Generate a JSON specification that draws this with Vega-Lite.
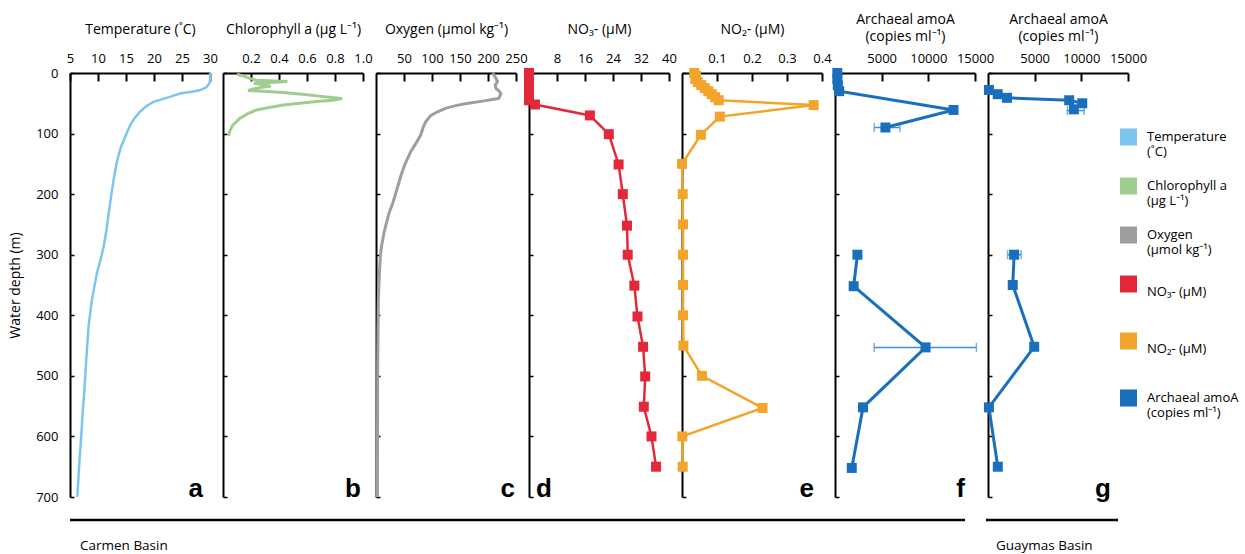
{
  "$schema": "https://vega.github.io/schema/vega-lite/v6.json",
  "padding": {"left": 8, "top": 12, "right": 0, "bottom": 0},
  "background": "white",
  "config": {
    "font": "Open Sans",
    "view": {"stroke": null},
    "axis": {"grid": false, "domainColor": "black", "domainWidth": 2, "tickColor": "black", "labelColor": "black", "titleColor": "black", "labelFont": "Open Sans", "titleFont": "Open Sans", "labelFontSize": 13, "titleFontSize": 14, "titleFontWeight": "normal", "labelFlush": false, "labelOverlap": false, "titleLineHeight": 17}
  },
  "datasets": {
    "temp": [{"depth":0,"value":30},{"depth":8,"value":30.1},{"depth":17,"value":29.9},{"depth":24,"value":29.3},{"depth":28,"value":28.3},{"depth":31,"value":26.8},{"depth":34,"value":24.6},{"depth":39,"value":23.0},{"depth":44,"value":21.2},{"depth":48,"value":19.8},{"depth":55,"value":18.6},{"depth":65,"value":17.4},{"depth":75,"value":16.5},{"depth":85,"value":15.8},{"depth":100,"value":15.1},{"depth":122,"value":14.1},{"depth":145,"value":13.4},{"depth":170,"value":12.9},{"depth":200,"value":12.4},{"depth":232,"value":11.9},{"depth":260,"value":11.5},{"depth":287,"value":11.0},{"depth":310,"value":10.4},{"depth":331,"value":9.8},{"depth":355,"value":9.3},{"depth":375,"value":8.9},{"depth":419,"value":8.3},{"depth":474,"value":7.9},{"depth":520,"value":7.6},{"depth":556,"value":7.3},{"depth":600,"value":7.0},{"depth":639,"value":6.7},{"depth":670,"value":6.5},{"depth":700,"value":6.3}],
    "chl": [{"depth":2,"value":0.10},{"depth":6,"value":0.16},{"depth":9,"value":0.19},{"depth":12,"value":0.24},{"depth":14,"value":0.46},{"depth":15,"value":0.40},{"depth":17,"value":0.22},{"depth":20,"value":0.30},{"depth":22,"value":0.34},{"depth":24,"value":0.27},{"depth":27,"value":0.20},{"depth":29,"value":0.18},{"depth":32,"value":0.43},{"depth":36,"value":0.60},{"depth":39,"value":0.72},{"depth":42,"value":0.85},{"depth":45,"value":0.78},{"depth":47,"value":0.67},{"depth":50,"value":0.55},{"depth":53,"value":0.43},{"depth":57,"value":0.33},{"depth":61,"value":0.24},{"depth":68,"value":0.17},{"depth":75,"value":0.12},{"depth":86,"value":0.07},{"depth":95,"value":0.05},{"depth":104,"value":0.04}],
    "oxy": [{"depth":0,"value":208},{"depth":5,"value":212},{"depth":10,"value":215},{"depth":14,"value":217},{"depth":20,"value":213},{"depth":25,"value":214},{"depth":30,"value":220},{"depth":34,"value":223},{"depth":38,"value":221},{"depth":42,"value":219},{"depth":44,"value":205},{"depth":46,"value":193},{"depth":50,"value":165},{"depth":53,"value":146},{"depth":58,"value":125},{"depth":64,"value":110},{"depth":70,"value":98},{"depth":80,"value":89},{"depth":90,"value":84},{"depth":102,"value":80},{"depth":115,"value":72},{"depth":130,"value":62},{"depth":150,"value":52},{"depth":168,"value":45},{"depth":196,"value":36},{"depth":215,"value":30},{"depth":229,"value":24},{"depth":250,"value":18},{"depth":265,"value":14},{"depth":285,"value":10},{"depth":303,"value":7.7},{"depth":340,"value":5.5},{"depth":375,"value":4.2},{"depth":430,"value":3.5},{"depth":485,"value":3.0},{"depth":600,"value":2.7},{"depth":700,"value":2.5}],
    "no3": [{"depth":0,"value":0},{"depth":5,"value":0},{"depth":10,"value":0},{"depth":15,"value":0},{"depth":20,"value":0},{"depth":25,"value":0},{"depth":30,"value":0},{"depth":35,"value":0},{"depth":40,"value":0},{"depth":45,"value":0},{"depth":52,"value":1.7},{"depth":70,"value":17.4},{"depth":101,"value":22.8},{"depth":151,"value":25.6},{"depth":200,"value":26.8},{"depth":252,"value":28.0},{"depth":300,"value":28.2},{"depth":351,"value":30.1},{"depth":402,"value":31.0},{"depth":452,"value":32.6},{"depth":501,"value":33.2},{"depth":551,"value":32.8},{"depth":600,"value":35.0},{"depth":650,"value":36.3}],
    "no2": [{"depth":0,"value":0.035},{"depth":5,"value":0.04},{"depth":10,"value":0.038},{"depth":15,"value":0.045},{"depth":20,"value":0.055},{"depth":25,"value":0.065},{"depth":30,"value":0.075},{"depth":35,"value":0.085},{"depth":40,"value":0.095},{"depth":45,"value":0.105},{"depth":53,"value":0.376},{"depth":72,"value":0.108},{"depth":102,"value":0.054},{"depth":150,"value":0.0},{"depth":200,"value":0.002},{"depth":250,"value":0.003},{"depth":300,"value":0.003},{"depth":350,"value":0.003},{"depth":400,"value":0.003},{"depth":450,"value":0.004},{"depth":500,"value":0.057},{"depth":553,"value":0.23},{"depth":600,"value":0.001},{"depth":650,"value":0.002}],
    "amoa": [
      {"basin":"Carmen","cast":1,"depth":0,"value":250},{"basin":"Carmen","cast":1,"depth":10,"value":250},{"basin":"Carmen","cast":1,"depth":20,"value":300},{"basin":"Carmen","cast":1,"depth":30,"value":450},{"basin":"Carmen","cast":1,"depth":61,"value":12700},{"basin":"Carmen","cast":1,"depth":90,"value":5400},
      {"basin":"Carmen","cast":2,"depth":300,"value":2400},{"basin":"Carmen","cast":2,"depth":352,"value":2000},{"basin":"Carmen","cast":2,"depth":453,"value":9700},{"basin":"Carmen","cast":2,"depth":552,"value":3000},{"basin":"Carmen","cast":2,"depth":652,"value":1800},
      {"basin":"Guaymas","cast":1,"depth":28,"value":100},{"basin":"Guaymas","cast":1,"depth":35,"value":1040},{"basin":"Guaymas","cast":1,"depth":41,"value":2040},{"basin":"Guaymas","cast":1,"depth":45,"value":8700},{"basin":"Guaymas","cast":1,"depth":50,"value":10100},{"basin":"Guaymas","cast":1,"depth":60,"value":9200},
      {"basin":"Guaymas","cast":2,"depth":300,"value":2800},{"basin":"Guaymas","cast":2,"depth":350,"value":2650},{"basin":"Guaymas","cast":2,"depth":452,"value":4950},{"basin":"Guaymas","cast":2,"depth":552,"value":100},{"basin":"Guaymas","cast":2,"depth":650,"value":1050}
    ],
    "amoa_err": [
      {"basin":"Carmen","depth":90,"lo":4200,"hi":6950},{"basin":"Carmen","depth":453,"lo":4200,"hi":15150},
      {"basin":"Guaymas","depth":62,"lo":8500,"hi":10300},{"basin":"Guaymas","depth":300,"lo":2100,"hi":3550}
    ],
    "carmen": [{"basin": "Carmen Basin"}],
    "guaymas": [{"basin": "Guaymas Basin"}]
  },
  "bounds": "flush",
  "spacing": 13,
  "resolve": {"scale": {"x": "independent", "y": "independent", "color": "shared"}, "legend": {"color": "shared"}},
  "hconcat": [
    {
      "width": 140, "height": 424,
      "layer": [
        {"data": {"name": "temp"},
         "mark": {"type": "line", "strokeWidth": 2.5},
         "encoding": {
           "x": {"field": "value", "type": "quantitative", "scale": {"domain": [5, 30], "nice": false, "zero": false}, "axis": {"orient": "top", "values": [5,10,15,20,25,30], "format": "d", "title": "Temperature (˚C)", "tickSize": -8, "tickWidth": 2, "labelPadding": 16, "titlePadding": 16, "labelOverlap": false}},
           "y": {"field": "depth", "type": "quantitative", "scale": {"domain": [0, 700], "reverse": true, "nice": false, "zero": false}, "axis": {"values": [0,100,200,300,400,500,600,700], "format": "d", "title": "Water depth (m)", "tickSize": -4, "tickWidth": 1.5, "labelPadding": 16, "titlePadding": 13, "labelOverlap": false}},
           "order": {"field": "depth", "type": "quantitative"},
           "color": {"datum": "Temperature|(˚C)", "type": "nominal",
             "scale": {"domain": ["Temperature|(˚C)", "Chlorophyll a|(µg L⁻¹)", "Oxygen|(µmol kg⁻¹)", "NO₃- (µM)", "NO₂- (µM)", "Archaeal amoA|(copies ml⁻¹)"], "range": ["#7cc6ee", "#9fcd8f", "#9e9e9e", "#e3283a", "#f2a42b", "#1a6fbd"]},
             "legend": {"orient": "none", "legendX": 1050, "legendY": 49, "title": null, "symbolType": "square", "symbolSize": 289, "symbolStrokeWidth": 0, "labelFontSize": 13, "labelFont": "Open Sans", "labelColor": "black", "labelOffset": 10, "labelLimit": 300, "clipHeight": 30, "rowPadding": 12, "labelExpr": "split(indexof(datum.label, '|') < 0 ? datum.label + '|' : datum.label, '|')",
               "encode": {"symbols": {"update": {"fill": {"scale": "color", "field": "value"}, "stroke": {"value": "transparent"}, "opacity": {"value": 1}}}, "labels": {"update": {"lineHeight": {"value": 15}, "dy": {"signal": "indexof(datum.label, '|') < 0 ? 7.5 : 0"}}}}}}
         }},
        {"data": {"values": [{"label": "a"}]},
         "mark": {"type": "text", "align": "right", "baseline": "alphabetic", "dx": -7, "font": "Liberation Sans", "fontWeight": "bold", "fontSize": 26, "color": "black"},
         "encoding": {
           "x": {"datum": 30, "type": "quantitative", "axis": {"orient": "top", "values": [5,10,15,20,25,30], "format": "d", "title": "Temperature (˚C)", "tickSize": -8, "tickWidth": 2, "labelPadding": 16, "titlePadding": 16, "labelOverlap": false}},
           "y": {"datum": 700, "type": "quantitative", "axis": {"values": [0,100,200,300,400,500,600,700], "format": "d", "title": "Water depth (m)", "tickSize": -4, "tickWidth": 1.5, "labelPadding": 16, "titlePadding": 13, "labelOverlap": false}},
           "text": {"field": "label"}}},
        {"data": {"name": "carmen"},
         "mark": {"type": "rule", "strokeWidth": 2.5, "color": "black", "x2Offset": 13},
         "encoding": {
           "x": {"datum": 5, "type": "quantitative", "axis": {"orient": "top", "values": [5,10,15,20,25,30], "format": "d", "title": "Temperature (˚C)", "tickSize": -8, "tickWidth": 2, "labelPadding": 16, "titlePadding": 16, "labelOverlap": false}},
           "x2": {"datum": 30},
           "y": {"datum": 738, "type": "quantitative", "axis": {"values": [0,100,200,300,400,500,600,700], "format": "d", "title": "Water depth (m)", "tickSize": -4, "tickWidth": 1.5, "labelPadding": 16, "titlePadding": 13, "labelOverlap": false}}}},
        {"data": {"name": "carmen"},
         "mark": {"type": "text", "align": "left", "baseline": "middle", "dx": 10, "fontSize": 13.5, "font": "Open Sans", "color": "black"},
         "encoding": {
           "x": {"datum": 5, "type": "quantitative", "axis": {"orient": "top", "values": [5,10,15,20,25,30], "format": "d", "title": "Temperature (˚C)", "tickSize": -8, "tickWidth": 2, "labelPadding": 16, "titlePadding": 16, "labelOverlap": false}},
           "y": {"datum": 781, "type": "quantitative", "axis": {"values": [0,100,200,300,400,500,600,700], "format": "d", "title": "Water depth (m)", "tickSize": -4, "tickWidth": 1.5, "labelPadding": 16, "titlePadding": 13, "labelOverlap": false}},
           "text": {"field": "basin"}}}
      ]
    },
    {
      "width": 140, "height": 424,
      "layer": [
        {"data": {"name": "chl"},
         "mark": {"type": "line", "strokeWidth": 3},
         "encoding": {
           "x": {"field": "value", "type": "quantitative", "scale": {"domain": [0, 1], "nice": false, "zero": false}, "axis": {"orient": "top", "values": [0.2,0.4,0.6,0.8,1.0], "format": ".1f", "title": "Chlorophyll a (µg L⁻¹)", "tickSize": -8, "tickWidth": 2, "labelPadding": 16, "titlePadding": 16, "labelOverlap": false}},
           "y": {"field": "depth", "type": "quantitative", "scale": {"domain": [0, 700], "reverse": true, "nice": false, "zero": false}, "axis": {"values": [0,100,200,300,400,500,600,700], "labels": false, "title": null, "tickSize": -4, "tickWidth": 1.5}},
           "order": {"field": "depth", "type": "quantitative"},
           "color": {"datum": "Chlorophyll a|(µg L⁻¹)", "type": "nominal"}
         }},
        {"data": {"values": [{"label": "b"}]},
         "mark": {"type": "text", "align": "right", "baseline": "alphabetic", "dx": -2, "font": "Liberation Sans", "fontWeight": "bold", "fontSize": 26, "color": "black"},
         "encoding": {
           "x": {"datum": 1, "type": "quantitative", "axis": {"orient": "top", "values": [0.2,0.4,0.6,0.8,1.0], "format": ".1f", "title": "Chlorophyll a (µg L⁻¹)", "tickSize": -8, "tickWidth": 2, "labelPadding": 16, "titlePadding": 16, "labelOverlap": false}},
           "y": {"datum": 700, "type": "quantitative", "axis": {"values": [0,100,200,300,400,500,600,700], "labels": false, "title": null, "tickSize": -4, "tickWidth": 1.5}},
           "text": {"field": "label"}}},
        {"data": {"name": "carmen"},
         "mark": {"type": "rule", "strokeWidth": 2.5, "color": "black", "x2Offset": 13},
         "encoding": {
           "x": {"datum": 0, "type": "quantitative", "axis": {"orient": "top", "values": [0.2,0.4,0.6,0.8,1.0], "format": ".1f", "title": "Chlorophyll a (µg L⁻¹)", "tickSize": -8, "tickWidth": 2, "labelPadding": 16, "titlePadding": 16, "labelOverlap": false}},
           "x2": {"datum": 1},
           "y": {"datum": 738, "type": "quantitative", "axis": {"values": [0,100,200,300,400,500,600,700], "labels": false, "title": null, "tickSize": -4, "tickWidth": 1.5}}}}
      ]
    },
    {
      "width": 140, "height": 424,
      "layer": [
        {"data": {"name": "oxy"},
         "mark": {"type": "line", "strokeWidth": 3},
         "encoding": {
           "x": {"field": "value", "type": "quantitative", "scale": {"domain": [0, 250], "nice": false, "zero": false}, "axis": {"orient": "top", "values": [50,100,150,200,250], "format": "d", "title": "Oxygen (µmol kg⁻¹)", "tickSize": -8, "tickWidth": 2, "labelPadding": 16, "titlePadding": 16, "labelOverlap": false}},
           "y": {"field": "depth", "type": "quantitative", "scale": {"domain": [0, 700], "reverse": true, "nice": false, "zero": false}, "axis": {"values": [0,100,200,300,400,500,600,700], "labels": false, "title": null, "tickSize": -4, "tickWidth": 1.5}},
           "order": {"field": "depth", "type": "quantitative"},
           "color": {"datum": "Oxygen|(µmol kg⁻¹)", "type": "nominal"}
         }},
        {"data": {"values": [{"label": "c"}]},
         "mark": {"type": "text", "align": "right", "baseline": "alphabetic", "dx": -1, "font": "Liberation Sans", "fontWeight": "bold", "fontSize": 26, "color": "black"},
         "encoding": {
           "x": {"datum": 250, "type": "quantitative", "axis": {"orient": "top", "values": [50,100,150,200,250], "format": "d", "title": "Oxygen (µmol kg⁻¹)", "tickSize": -8, "tickWidth": 2, "labelPadding": 16, "titlePadding": 16, "labelOverlap": false}},
           "y": {"datum": 700, "type": "quantitative", "axis": {"values": [0,100,200,300,400,500,600,700], "labels": false, "title": null, "tickSize": -4, "tickWidth": 1.5}},
           "text": {"field": "label"}}},
        {"data": {"name": "carmen"},
         "mark": {"type": "rule", "strokeWidth": 2.5, "color": "black", "x2Offset": 13},
         "encoding": {
           "x": {"datum": 0, "type": "quantitative", "axis": {"orient": "top", "values": [50,100,150,200,250], "format": "d", "title": "Oxygen (µmol kg⁻¹)", "tickSize": -8, "tickWidth": 2, "labelPadding": 16, "titlePadding": 16, "labelOverlap": false}},
           "x2": {"datum": 250},
           "y": {"datum": 738, "type": "quantitative", "axis": {"values": [0,100,200,300,400,500,600,700], "labels": false, "title": null, "tickSize": -4, "tickWidth": 1.5}}}}
      ]
    },
    {
      "width": 140, "height": 424,
      "layer": [
        {"data": {"name": "no3"},
         "mark": {"type": "line", "strokeWidth": 2.5, "point": {"shape": "square", "size": 100, "filled": true, "opacity": 1}},
         "encoding": {
           "x": {"field": "value", "type": "quantitative", "scale": {"domain": [0, 40], "nice": false, "zero": false}, "axis": {"orient": "top", "values": [8,16,24,32,40], "format": "d", "title": "NO₃- (µM)", "tickSize": -8, "tickWidth": 2, "labelPadding": 16, "titlePadding": 16, "labelOverlap": false}},
           "y": {"field": "depth", "type": "quantitative", "scale": {"domain": [0, 700], "reverse": true, "nice": false, "zero": false}, "axis": {"values": [0,100,200,300,400,500,600,700], "labels": false, "title": null, "tickSize": -4, "tickWidth": 1.5}},
           "order": {"field": "depth", "type": "quantitative"},
           "color": {"datum": "NO₃- (µM)", "type": "nominal"}
         }},
        {"data": {"values": [{"label": "d"}]},
         "mark": {"type": "text", "align": "left", "baseline": "alphabetic", "dx": 7, "font": "Liberation Sans", "fontWeight": "bold", "fontSize": 26, "color": "black"},
         "encoding": {
           "x": {"datum": 0, "type": "quantitative", "axis": {"orient": "top", "values": [8,16,24,32,40], "format": "d", "title": "NO₃- (µM)", "tickSize": -8, "tickWidth": 2, "labelPadding": 16, "titlePadding": 16, "labelOverlap": false}},
           "y": {"datum": 700, "type": "quantitative", "axis": {"values": [0,100,200,300,400,500,600,700], "labels": false, "title": null, "tickSize": -4, "tickWidth": 1.5}},
           "text": {"field": "label"}}},
        {"data": {"name": "carmen"},
         "mark": {"type": "rule", "strokeWidth": 2.5, "color": "black", "x2Offset": 13},
         "encoding": {
           "x": {"datum": 0, "type": "quantitative", "axis": {"orient": "top", "values": [8,16,24,32,40], "format": "d", "title": "NO₃- (µM)", "tickSize": -8, "tickWidth": 2, "labelPadding": 16, "titlePadding": 16, "labelOverlap": false}},
           "x2": {"datum": 40},
           "y": {"datum": 738, "type": "quantitative", "axis": {"values": [0,100,200,300,400,500,600,700], "labels": false, "title": null, "tickSize": -4, "tickWidth": 1.5}}}}
      ]
    },
    {
      "width": 140, "height": 424,
      "layer": [
        {"data": {"name": "no2"},
         "mark": {"type": "line", "strokeWidth": 2.5, "point": {"shape": "square", "size": 100, "filled": true, "opacity": 1}},
         "encoding": {
           "x": {"field": "value", "type": "quantitative", "scale": {"domain": [0, 0.4], "nice": false, "zero": false}, "axis": {"orient": "top", "values": [0.1,0.2,0.3,0.4], "format": ".1f", "title": "NO₂- (µM)", "tickSize": -8, "tickWidth": 2, "labelPadding": 16, "titlePadding": 16, "labelOverlap": false}},
           "y": {"field": "depth", "type": "quantitative", "scale": {"domain": [0, 700], "reverse": true, "nice": false, "zero": false}, "axis": {"values": [0,100,200,300,400,500,600,700], "labels": false, "title": null, "tickSize": -4, "tickWidth": 1.5}},
           "order": {"field": "depth", "type": "quantitative"},
           "color": {"datum": "NO₂- (µM)", "type": "nominal"}
         }},
        {"data": {"values": [{"label": "e"}]},
         "mark": {"type": "text", "align": "right", "baseline": "alphabetic", "dx": -8, "font": "Liberation Sans", "fontWeight": "bold", "fontSize": 26, "color": "black"},
         "encoding": {
           "x": {"datum": 0.4, "type": "quantitative", "axis": {"orient": "top", "values": [0.1,0.2,0.3,0.4], "format": ".1f", "title": "NO₂- (µM)", "tickSize": -8, "tickWidth": 2, "labelPadding": 16, "titlePadding": 16, "labelOverlap": false}},
           "y": {"datum": 700, "type": "quantitative", "axis": {"values": [0,100,200,300,400,500,600,700], "labels": false, "title": null, "tickSize": -4, "tickWidth": 1.5}},
           "text": {"field": "label"}}},
        {"data": {"name": "carmen"},
         "mark": {"type": "rule", "strokeWidth": 2.5, "color": "black", "x2Offset": 13},
         "encoding": {
           "x": {"datum": 0, "type": "quantitative", "axis": {"orient": "top", "values": [0.1,0.2,0.3,0.4], "format": ".1f", "title": "NO₂- (µM)", "tickSize": -8, "tickWidth": 2, "labelPadding": 16, "titlePadding": 16, "labelOverlap": false}},
           "x2": {"datum": 0.4},
           "y": {"datum": 738, "type": "quantitative", "axis": {"values": [0,100,200,300,400,500,600,700], "labels": false, "title": null, "tickSize": -4, "tickWidth": 1.5}}}}
      ]
    },
    {
      "width": 140, "height": 424,
      "layer": [
        {"data": {"name": "amoa_err"},
         "transform": [{"filter": "datum.basin === 'Carmen'"}],
         "mark": {"type": "errorbar", "color": "#3f8fd6", "thickness": 1.5, "ticks": {"size": 9, "thickness": 1.5}},
         "encoding": {
           "x": {"field": "lo", "type": "quantitative", "scale": {"domain": [0, 15000], "nice": false, "zero": false}, "axis": {"orient": "top", "values": [5000,10000,15000], "format": "d", "title": ["Archaeal amoA", "(copies ml⁻¹)"], "tickSize": -8, "tickWidth": 2, "labelPadding": 16, "titlePadding": 9, "labelOverlap": false}},
           "x2": {"field": "hi"},
           "y": {"field": "depth", "type": "quantitative", "scale": {"domain": [0, 700], "reverse": true, "nice": false, "zero": false}, "axis": {"values": [0,100,200,300,400,500,600,700], "labels": false, "title": null, "tickSize": -4, "tickWidth": 1.5}}
         }},
        {"data": {"name": "amoa"},
         "transform": [{"filter": "datum.basin === 'Carmen'"}],
         "mark": {"type": "line", "strokeWidth": 3, "point": {"shape": "square", "size": 100, "filled": true, "opacity": 1}},
         "encoding": {
           "x": {"field": "value", "type": "quantitative", "scale": {"domain": [0, 15000], "nice": false, "zero": false}, "axis": {"orient": "top", "values": [5000,10000,15000], "format": "d", "title": ["Archaeal amoA", "(copies ml⁻¹)"], "tickSize": -8, "tickWidth": 2, "labelPadding": 16, "titlePadding": 9, "labelOverlap": false}},
           "y": {"field": "depth", "type": "quantitative", "scale": {"domain": [0, 700], "reverse": true, "nice": false, "zero": false}, "axis": {"values": [0,100,200,300,400,500,600,700], "labels": false, "title": null, "tickSize": -4, "tickWidth": 1.5}},
           "order": {"field": "depth", "type": "quantitative"},
           "detail": {"field": "cast", "type": "nominal"},
           "color": {"datum": "Archaeal amoA|(copies ml⁻¹)", "type": "nominal"}
         }},
        {"data": {"values": [{"label": "f"}]},
         "mark": {"type": "text", "align": "right", "baseline": "alphabetic", "dx": -10, "font": "Liberation Sans", "fontWeight": "bold", "fontSize": 26, "color": "black"},
         "encoding": {
           "x": {"datum": 15000, "type": "quantitative", "axis": {"orient": "top", "values": [5000,10000,15000], "format": "d", "title": ["Archaeal amoA", "(copies ml⁻¹)"], "tickSize": -8, "tickWidth": 2, "labelPadding": 16, "titlePadding": 9, "labelOverlap": false}},
           "y": {"datum": 700, "type": "quantitative", "axis": {"values": [0,100,200,300,400,500,600,700], "labels": false, "title": null, "tickSize": -4, "tickWidth": 1.5}},
           "text": {"field": "label"}}},
        {"data": {"name": "carmen"},
         "mark": {"type": "rule", "strokeWidth": 2.5, "color": "black", "x2Offset": -10},
         "encoding": {
           "x": {"datum": 0, "type": "quantitative", "axis": {"orient": "top", "values": [5000,10000,15000], "format": "d", "title": ["Archaeal amoA", "(copies ml⁻¹)"], "tickSize": -8, "tickWidth": 2, "labelPadding": 16, "titlePadding": 9, "labelOverlap": false}},
           "x2": {"datum": 15000},
           "y": {"datum": 738, "type": "quantitative", "axis": {"values": [0,100,200,300,400,500,600,700], "labels": false, "title": null, "tickSize": -4, "tickWidth": 1.5}}}}
      ]
    },
    {
      "width": 140, "height": 424,
      "layer": [
        {"data": {"name": "amoa_err"},
         "transform": [{"filter": "datum.basin === 'Guaymas'"}],
         "mark": {"type": "errorbar", "color": "#3f8fd6", "thickness": 1.5, "ticks": {"size": 9, "thickness": 1.5}},
         "encoding": {
           "x": {"field": "lo", "type": "quantitative", "scale": {"domain": [0, 15000], "nice": false, "zero": false}, "axis": {"orient": "top", "values": [5000,10000,15000], "format": "d", "title": ["Archaeal amoA", "(copies ml⁻¹)"], "tickSize": -8, "tickWidth": 2, "labelPadding": 16, "titlePadding": 9, "labelOverlap": false}},
           "x2": {"field": "hi"},
           "y": {"field": "depth", "type": "quantitative", "scale": {"domain": [0, 700], "reverse": true, "nice": false, "zero": false}, "axis": {"values": [0,100,200,300,400,500,600,700], "labels": false, "title": null, "tickSize": -4, "tickWidth": 1.5}}
         }},
        {"data": {"name": "amoa"},
         "transform": [{"filter": "datum.basin === 'Guaymas'"}],
         "mark": {"type": "line", "strokeWidth": 3, "point": {"shape": "square", "size": 100, "filled": true, "opacity": 1}},
         "encoding": {
           "x": {"field": "value", "type": "quantitative", "scale": {"domain": [0, 15000], "nice": false, "zero": false}, "axis": {"orient": "top", "values": [5000,10000,15000], "format": "d", "title": ["Archaeal amoA", "(copies ml⁻¹)"], "tickSize": -8, "tickWidth": 2, "labelPadding": 16, "titlePadding": 9, "labelOverlap": false}},
           "y": {"field": "depth", "type": "quantitative", "scale": {"domain": [0, 700], "reverse": true, "nice": false, "zero": false}, "axis": {"values": [0,100,200,300,400,500,600,700], "labels": false, "title": null, "tickSize": -4, "tickWidth": 1.5}},
           "order": {"field": "depth", "type": "quantitative"},
           "detail": {"field": "cast", "type": "nominal"},
           "color": {"datum": "Archaeal amoA|(copies ml⁻¹)", "type": "nominal"}
         }},
        {"data": {"values": [{"label": "g"}]},
         "mark": {"type": "text", "align": "right", "baseline": "alphabetic", "dx": -17, "font": "Liberation Sans", "fontWeight": "bold", "fontSize": 26, "color": "black"},
         "encoding": {
           "x": {"datum": 15000, "type": "quantitative", "axis": {"orient": "top", "values": [5000,10000,15000], "format": "d", "title": ["Archaeal amoA", "(copies ml⁻¹)"], "tickSize": -8, "tickWidth": 2, "labelPadding": 16, "titlePadding": 9, "labelOverlap": false}},
           "y": {"datum": 700, "type": "quantitative", "axis": {"values": [0,100,200,300,400,500,600,700], "labels": false, "title": null, "tickSize": -4, "tickWidth": 1.5}},
           "text": {"field": "label"}}},
        {"data": {"name": "guaymas"},
         "mark": {"type": "rule", "strokeWidth": 2.5, "color": "black", "xOffset": -2, "x2Offset": -10},
         "encoding": {
           "x": {"datum": 0, "type": "quantitative", "axis": {"orient": "top", "values": [5000,10000,15000], "format": "d", "title": ["Archaeal amoA", "(copies ml⁻¹)"], "tickSize": -8, "tickWidth": 2, "labelPadding": 16, "titlePadding": 9, "labelOverlap": false}},
           "x2": {"datum": 15000},
           "y": {"datum": 738, "type": "quantitative", "axis": {"values": [0,100,200,300,400,500,600,700], "labels": false, "title": null, "tickSize": -4, "tickWidth": 1.5}}}},
        {"data": {"name": "guaymas"},
         "mark": {"type": "text", "align": "left", "baseline": "middle", "dx": 8, "fontSize": 13.5, "font": "Open Sans", "color": "black"},
         "encoding": {
           "x": {"datum": 0, "type": "quantitative", "axis": {"orient": "top", "values": [5000,10000,15000], "format": "d", "title": ["Archaeal amoA", "(copies ml⁻¹)"], "tickSize": -8, "tickWidth": 2, "labelPadding": 16, "titlePadding": 9, "labelOverlap": false}},
           "y": {"datum": 781, "type": "quantitative", "axis": {"values": [0,100,200,300,400,500,600,700], "labels": false, "title": null, "tickSize": -4, "tickWidth": 1.5}},
           "text": {"field": "basin"}}}
      ]
    }
  ]
}
